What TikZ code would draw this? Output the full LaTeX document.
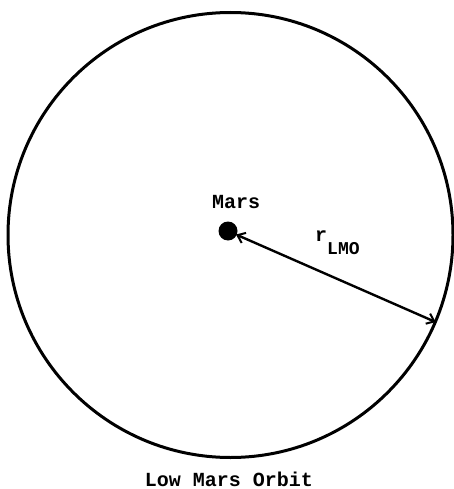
\documentclass[tikz,border=0pt]{standalone}
\usepackage{fontspec}
\setmonofont{Liberation Mono}
\usetikzlibrary{arrows.meta}
\tikzset{
  lbl/.style={font=\ttfamily\bfseries\fontsize{20}{24}\selectfont, inner sep=0pt},
  orbitline/.style={draw, line width=3pt, circle, inner sep=0pt},
  radius arrow/.style={line width=2.4pt, {Straight Barb[length=7pt,width=11pt,line width=2pt]}-{Straight Barb[length=7pt,width=11pt,line width=2pt]}, shorten <=-1pt, shorten >=1pt}
}
\begin{document}
\begin{tikzpicture}[x=1pt,y=-1pt]
\useasboundingbox (0,0) rectangle (453,489);
\node[orbitline, minimum size=445pt] (orbit) at (230.5,235) {};
\node[circle, fill=black, inner sep=0pt, minimum size=19pt] (mars) at (228,231) {};
\node[lbl, anchor=base] (marslbl) at (236,208) {Mars};
\coordinate (tip) at (orbit.-23);
\draw[radius arrow] (mars) -- (tip);
\node[lbl, anchor=base west] (rlmo) at (315,241) {r\raisebox{-13pt}{\fontsize{18}{20}\selectfont LMO}};
\node[lbl, anchor=base] (title) at (229,486) {Low Mars Orbit};
\end{tikzpicture}
\end{document}
